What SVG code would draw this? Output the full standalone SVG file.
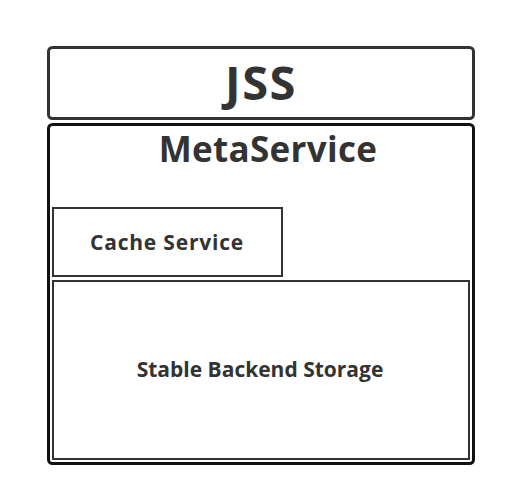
<svg xmlns="http://www.w3.org/2000/svg" width="506" height="496" viewBox="0 0 506 496">
<style>
text{font-family:"Open Sans","Noto Sans",sans-serif;font-weight:bold;fill:#333;text-anchor:middle}
.outer{fill:#fff;stroke-width:3}
.inner{fill:#fff;stroke:#333;stroke-width:2}
</style>
<rect width="506" height="496" fill="#fff"/>
<g id="jss">
<rect class="outer" x="48.5" y="47.5" width="425" height="71" rx="4" stroke="#333"/>
<text x="261" y="100" font-size="47" letter-spacing="1.5">JSS</text>
</g>
<g id="metaservice">
<rect class="outer" x="48.5" y="124.5" width="425" height="339" rx="4" stroke="#111"/>
<text x="268" y="162" font-size="35" letter-spacing="0.3">MetaService</text>
</g>
<g id="cache">
<rect class="inner" x="53" y="208" width="229" height="68"/>
<text x="167" y="250" font-size="21" letter-spacing="0.8">Cache Service</text>
</g>
<g id="storage">
<rect class="inner" x="53" y="281" width="416" height="178"/>
<text x="260" y="377" font-size="21">Stable Backend Storage</text>
</g>
<g id="connectors"/>
</svg>
